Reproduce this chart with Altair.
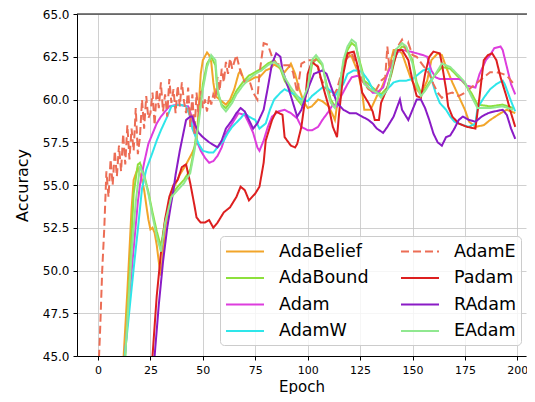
import altair as alt
import pandas as pd

# ---------------- data ----------------
plot_order = ["AdaBelief", "AdaBound", "Adam", "AdamW", "AdamE", "Padam", "RAdam", "EAdam"]
series_colors = {
    "AdaBelief": "#f2a52a", "AdaBound": "#8de03c", "Adam": "#dd3ddd", "AdamW": "#2ee6ea",
    "AdamE": "#ec6d55", "Padam": "#dd1f1f", "RAdam": "#8a1bc6", "EAdam": "#90e890",
}
x_ticks = [0, 25, 50, 75, 100, 125, 150, 175, 200]
y_ticks = [45.0, 47.5, 50.0, 52.5, 55.0, 57.5, 60.0, 62.5, 65.0]

adabelief_epoch = [10, 12, 14, 16, 17, 19, 21, 22, 24, 25, 26, 27, 28, 29, 30, 31, 32, 34, 36, 39, 42, 45, 47, 48, 49, 50, 52, 53, 54, 55, 56, 58, 61, 63, 65, 67, 68, 70, 72, 75, 77, 80, 82, 84, 86, 87, 89, 91, 92, 94, 96, 98, 100, 102, 105, 107, 110, 112, 113, 115, 117, 119, 121, 124, 126, 127, 130, 133, 135, 138, 141, 143, 145, 147, 149, 152, 154, 157, 159, 162, 164, 166, 169, 172, 175, 177, 180, 184, 187, 192, 195, 199]
adabelief_acc = [40.0, 44.5, 48.8, 53.6, 55.3, 56.0, 55.3, 54.7, 53.0, 52.4, 52.5, 52.2, 51.5, 50.5, 49.7, 51.0, 52.5, 53.8, 54.8, 55.6, 56.2, 56.9, 57.5, 59.5, 61.5, 62.3, 62.75, 62.6, 62.2, 61.0, 60.2, 60.0, 59.7, 60.0, 60.6, 61.5, 61.7, 61.0, 61.1, 61.3, 61.3, 61.7, 61.8, 62.05, 61.9, 61.8, 61.6, 61.9, 62.1, 61.5, 60.6, 59.9, 59.5, 59.6, 60.0, 59.9, 59.6, 59.1, 58.8, 60.5, 62.1, 62.7, 62.5, 61.6, 60.4, 59.4, 59.4, 60.2, 60.6, 61.5, 62.9, 62.9, 62.7, 62.0, 61.3, 60.6, 60.3, 61.1, 62.3, 62.7, 62.6, 61.9, 61.0, 60.2, 59.4, 58.7, 58.4, 58.5, 58.8, 59.2, 59.4, 59.2]

adabound_epoch = [12, 13, 15, 17, 19, 20, 22, 24, 26, 28, 30, 32, 35, 38, 41, 44, 46, 48, 50, 52, 54, 56, 57, 59, 61, 64, 66, 69, 72, 75, 78, 81, 84, 87, 89, 92, 95, 97, 100, 102, 104, 107, 109, 111, 113, 115, 117, 119, 121, 123, 124, 126, 127, 130, 133, 135, 138, 140, 142, 145, 147, 150, 152, 154, 156, 158, 162, 164, 168, 172, 175, 178, 181, 187, 193, 198]
adabound_acc = [43.0, 45.0, 49.5, 54.5, 56.2, 56.3, 55.6, 54.6, 53.4, 52.3, 51.4, 52.9, 54.4, 54.9, 55.3, 55.9, 57.2, 58.9, 60.9, 62.1, 62.5, 62.0, 60.4, 59.7, 59.5, 60.0, 60.5, 61.0, 61.4, 61.6, 61.8, 62.1, 62.3, 61.8, 61.1, 60.5, 60.0, 59.7, 60.5, 62.0, 62.4, 62.0, 60.9, 60.0, 59.6, 60.3, 62.0, 62.9, 63.3, 63.1, 62.6, 61.7, 61.1, 60.8, 60.5, 60.3, 60.7, 61.5, 62.6, 63.1, 63.0, 62.3, 61.0, 60.4, 60.6, 61.0, 61.6, 61.9, 61.8, 61.3, 60.9, 60.4, 59.7, 59.6, 59.7, 59.5]

adam_epoch = [11, 13, 15, 17, 19, 20, 22, 24, 26, 28, 30, 32, 34, 38, 43, 45, 47, 49, 51, 53, 55, 57, 59, 61, 64, 67, 70, 72, 74, 76, 77, 79, 81, 83, 86, 89, 92, 95, 97, 100, 102, 105, 107, 110, 112, 114, 116, 119, 121, 124, 126, 129, 131, 133, 136, 138, 141, 143, 145, 149, 152, 155, 157, 159, 161, 163, 168, 172, 174, 176, 180, 182, 185, 187, 189, 192, 193, 195, 197, 199]
adam_acc = [42.5, 45.3, 48.5, 51.3, 54.0, 55.0, 56.3, 57.4, 58.0, 58.6, 59.0, 59.3, 59.6, 59.7, 59.6, 58.9, 57.6, 57.0, 56.6, 56.3, 56.4, 56.7, 57.2, 58.0, 58.6, 59.2, 59.1, 58.6, 58.05, 57.2, 57.0, 57.6, 58.4, 59.0, 59.3, 59.4, 59.2, 58.9, 58.4, 58.2, 58.2, 58.4, 58.8, 59.3, 59.7, 59.6, 60.2, 60.9, 61.3, 61.4, 61.1, 60.7, 60.4, 60.4, 60.7, 61.5, 62.3, 62.8, 62.9, 62.8, 62.7, 62.6, 62.5, 61.7, 61.3, 61.2, 61.2, 61.2, 61.1, 60.8, 60.7, 61.5, 62.3, 62.6, 63.0, 63.1, 62.9, 61.9, 60.9, 60.3]

adamw_epoch = [11, 13, 15, 17, 19, 21, 23, 26, 28, 30, 33, 35, 39, 42, 44, 45, 48, 50, 53, 55, 57, 60, 62, 64, 68, 70, 72, 75, 77, 80, 82, 84, 87, 89, 92, 94, 97, 100, 102, 104, 107, 109, 112, 113, 114, 117, 119, 122, 124, 126, 129, 131, 134, 136, 138, 141, 144, 147, 150, 153, 155, 158, 159, 161, 163, 166, 168, 170, 174, 177, 180, 181, 184, 187, 190, 193, 194, 197, 199]
adamw_acc = [42.5, 45.3, 47.7, 50.1, 52.4, 54.8, 55.9, 56.9, 57.6, 58.2, 59.0, 59.6, 59.7, 59.6, 59.0, 58.3, 57.4, 57.0, 56.9, 56.9, 57.2, 57.6, 58.05, 58.4, 58.9, 59.2, 59.0, 58.8, 58.3, 58.6, 59.4, 60.0, 60.4, 60.6, 60.4, 60.3, 60.0, 59.9, 60.2, 60.4, 60.7, 60.7, 60.4, 60.2, 60.4, 60.9, 61.5, 61.7, 61.7, 61.6, 61.1, 60.6, 60.3, 60.2, 60.6, 61.0, 61.1, 61.1, 61.2, 61.5, 61.7, 61.8, 61.2, 60.4, 59.8, 59.4, 59.0, 58.7, 58.5, 58.4, 58.6, 59.5, 60.1, 60.6, 60.9, 61.1, 60.9, 59.9, 59.3]

adame_epoch = [0, 1, 2, 3, 4, 5, 6, 7, 8, 9, 10, 11, 12, 13, 14, 15, 16, 17, 18, 19, 20, 21, 22, 23, 24, 25, 26, 27, 28, 29, 30, 31, 32, 33, 34, 35, 36, 37, 38, 39, 40, 41, 42, 43, 44, 45, 46, 47, 48, 49, 50, 51, 52, 53, 54, 55, 56, 57, 58, 59, 60, 61, 62, 63, 64, 66, 68, 70, 72, 74, 76, 77, 79, 81, 83, 85, 88, 91, 93, 95, 97, 100, 104, 106, 109, 112, 114, 116, 118, 121, 123, 126, 129, 132, 135, 137, 138, 139, 141, 143, 145, 147, 148, 150, 152, 155, 158, 160, 162, 164, 166, 169, 172, 175, 178, 181, 184, 187, 190, 193, 195, 197, 199]
adame_acc = [43.5, 46.5, 50.0, 52.5, 55.8, 54.3, 56.5, 55.0, 57.0, 55.5, 57.3, 55.8, 58.0, 56.2, 58.5, 56.5, 58.3, 57.0, 59.5, 56.8, 57.8, 60.0, 58.3, 60.2, 58.9, 59.2, 60.4, 58.5, 60.6, 59.5, 61.0, 59.3, 60.3, 59.0, 61.2, 59.8, 60.6, 59.2, 60.8, 59.6, 61.0, 59.9, 59.2, 60.7, 58.4, 60.3, 58.0, 60.4, 59.0, 60.5, 59.5, 60.0, 59.3, 60.2, 59.7, 60.3, 60.0, 61.3, 60.5, 61.8, 61.0, 62.2, 61.5, 62.4, 61.8, 62.6, 61.6, 61.0, 61.2, 60.4, 60.0, 61.5, 63.3, 63.2, 62.5, 62.1, 62.0, 62.0, 61.6, 60.4, 62.1, 62.3, 62.3, 61.3, 60.6, 60.2, 60.6, 61.5, 62.3, 62.7, 62.1, 61.1, 60.6, 60.4, 61.1, 61.3, 63.1, 61.8, 62.7, 63.1, 63.5, 62.9, 63.3, 62.6, 62.5, 62.0, 61.5, 60.9, 60.4, 60.1, 60.3, 60.4, 60.2, 60.4, 60.7, 61.0, 61.3, 61.6, 61.6, 61.5, 61.4, 61.1, 60.8]

padam_epoch = [24, 26, 28, 30, 32, 34, 36, 38, 40, 42, 44, 46, 47, 49, 51, 53, 55, 57, 60, 63, 66, 68, 70, 72, 75, 77, 79, 80, 83, 85, 88, 89, 92, 94, 95, 97, 99, 100, 102, 105, 107, 110, 112, 114, 115, 117, 119, 122, 124, 126, 129, 131, 132, 134, 135, 138, 141, 143, 145, 148, 150, 152, 154, 156, 158, 160, 163, 164, 166, 167, 169, 172, 176, 180, 182, 184, 186, 188, 190, 192, 195, 197, 199]
padam_acc = [40.0, 45.0, 48.5, 51.0, 53.0, 54.3, 55.0, 55.3, 56.05, 56.2, 55.1, 53.8, 53.1, 52.8, 52.8, 52.95, 52.5, 52.8, 53.4, 53.7, 54.3, 54.9, 54.7, 54.1, 54.5, 54.9, 56.3, 57.6, 58.8, 59.3, 59.1, 57.8, 57.3, 57.2, 57.4, 58.4, 60.2, 61.5, 62.2, 61.9, 60.9, 59.6, 58.4, 57.8, 59.2, 61.5, 62.7, 62.8, 61.9, 60.4, 59.8, 59.3, 58.8, 58.8, 59.8, 60.7, 62.1, 62.9, 62.9, 62.3, 61.1, 60.2, 60.1, 61.5, 62.5, 62.8, 62.7, 62.1, 60.6, 59.6, 59.0, 58.6, 58.4, 58.3, 60.2, 62.3, 62.6, 62.7, 62.3, 61.3, 60.1, 59.2, 58.4]

radam_epoch = [24, 27, 29, 31, 33, 35, 36, 37, 39, 41, 42, 44, 45, 46, 48, 50, 53, 57, 59, 61, 64, 66, 68, 70, 72, 74, 76, 79, 81, 83, 85, 87, 88, 91, 93, 95, 97, 99, 101, 103, 107, 109, 111, 114, 117, 120, 123, 126, 129, 131, 133, 136, 138, 141, 144, 145, 148, 150, 152, 154, 156, 158, 160, 162, 164, 166, 168, 170, 172, 174, 177, 180, 183, 186, 189, 193, 195, 197, 199]
radam_acc = [40.0, 45.0, 48.0, 50.5, 52.5, 54.0, 54.7, 55.6, 57.0, 58.2, 58.8, 59.0, 59.0, 58.6, 58.05, 57.8, 57.5, 57.2, 57.6, 58.3, 58.8, 59.2, 59.5, 59.3, 58.8, 58.3, 58.6, 59.4, 60.7, 62.1, 62.7, 62.5, 61.7, 60.6, 59.8, 59.0, 59.4, 60.2, 60.9, 61.5, 61.7, 61.5, 60.8, 59.8, 59.4, 59.2, 59.2, 59.0, 58.8, 58.6, 58.3, 58.05, 58.4, 59.0, 60.0, 59.4, 58.8, 59.4, 60.0, 60.0, 59.5, 58.8, 58.0, 57.5, 57.3, 57.8, 57.9, 58.3, 58.8, 59.0, 58.8, 58.7, 59.0, 59.2, 59.3, 59.4, 59.1, 58.3, 57.7]

eadam_epoch = [12, 14, 16, 18, 20, 22, 24, 26, 28, 30, 32, 35, 38, 41, 44, 46, 48, 50, 52, 54, 56, 57, 59, 61, 64, 66, 69, 72, 75, 78, 81, 84, 87, 89, 92, 95, 97, 100, 102, 104, 107, 109, 111, 113, 115, 117, 119, 121, 123, 124, 126, 127, 130, 133, 135, 138, 140, 142, 145, 147, 150, 152, 154, 156, 158, 162, 164, 168, 172, 175, 178, 181, 187, 193, 198]
eadam_acc = [43.0, 47.0, 51.0, 54.0, 56.1, 55.5, 54.5, 53.2, 52.0, 51.1, 52.8, 54.3, 54.7, 55.1, 55.7, 57.0, 58.6, 60.6, 61.9, 62.6, 62.3, 60.6, 59.6, 59.3, 59.8, 60.3, 60.8, 61.2, 61.5, 61.7, 62.0, 62.2, 61.9, 61.3, 60.7, 60.2, 59.8, 60.7, 62.3, 62.6, 62.1, 60.7, 59.8, 59.5, 60.5, 62.3, 63.1, 63.5, 63.3, 62.5, 61.5, 60.9, 60.6, 60.4, 60.1, 60.6, 61.7, 62.9, 63.3, 63.1, 62.1, 60.8, 60.2, 60.5, 60.9, 61.7, 62.1, 61.9, 61.4, 61.0, 60.2, 59.5, 59.5, 59.6, 59.4]

# ---------------- build the long table ----------------
series_data = {
    "AdaBelief": (adabelief_epoch, adabelief_acc),
    "AdaBound": (adabound_epoch, adabound_acc),
    "Adam": (adam_epoch, adam_acc),
    "AdamW": (adamw_epoch, adamw_acc),
    "AdamE": (adame_epoch, adame_acc),
    "Padam": (padam_epoch, padam_acc),
    "RAdam": (radam_epoch, radam_acc),
    "EAdam": (eadam_epoch, eadam_acc),
}
frames = []
for name in plot_order:
    ep, acc = series_data[name]
    frames.append(pd.DataFrame({"Epoch": ep, "Accuracy": acc, "series": name}))
df = pd.concat(frames, ignore_index=True)

W, H = 449, 342
FONT = "DejaVu Sans"

x_scale = alt.Scale(domain=[-10.02, 204.13], nice=False, zero=False)
y_scale = alt.Scale(domain=[45, 65], nice=False, zero=False)

legend = alt.Legend(
    title=None, orient="none", legendX=143, legendY=222, columns=2,
    columnPadding=28, rowPadding=7.5, padding=5,
    symbolType="M-1,0L3,0", symbolSize=361, symbolStrokeWidth=2,
    labelOffset=33, labelFontSize=17.5, labelFont=FONT, labelColor="black",
    fillColor="rgba(255,255,255,0.8)", strokeColor="#cccccc", cornerRadius=4,
)

color_enc = alt.Color(
    "series:N",
    scale=alt.Scale(domain=plot_order, range=[series_colors[n] for n in plot_order]),
    legend=legend,
)
dash_enc = alt.StrokeDash(
    "series:N",
    scale=alt.Scale(domain=plot_order, range=[[8, 4] if n == "AdamE" else [1, 0] for n in plot_order]),
    legend=legend,
)

x_enc = alt.X("Epoch:Q", scale=x_scale,
              axis=alt.Axis(values=x_ticks, title="Epoch", format="d", labelFontSize=11))
y_enc = alt.Y("Accuracy:Q", scale=y_scale,
              axis=alt.Axis(values=y_ticks, title="Accuracy", format=".1f"))

layers = []
for name in plot_order:
    layers.append(
        alt.Chart()
        .transform_filter(alt.datum.series == name)
        .mark_line(clip=True, strokeWidth=2)
        .encode(x=x_enc, y=y_enc, color=color_enc, strokeDash=dash_enc)
    )

top_border = (
    alt.Chart(pd.DataFrame({"k": [0]}))
    .mark_rule(color="black", strokeWidth=1)
    .encode(x=alt.value(0), x2=alt.value(W + 1), y=alt.value(0))
)

chart = (
    alt.layer(*layers, data=df)
    + top_border
).properties(
    width=W, height=H,
    padding={"left": 69, "top": 6, "right": 1, "bottom": 38},
    autosize=alt.AutoSizeParams(type="none"),
).configure_view(
    stroke=None
).configure_axis(
    labelFont=FONT, labelFontSize=12, labelColor="black", labelPadding=4,
    titleFont=FONT, titleFontSize=16, titleFontWeight="normal", titleColor="black",
    grid=True, gridColor="#c4c4c4", gridWidth=0.8,
    domainColor="black", domainWidth=1, tickColor="black", tickSize=4,
).configure_axisX(
    titlePadding=4, titleFontSize=15
).configure_axisY(
    titlePadding=12
)

chart.save("out.html", embed_options={"renderer": "svg", "actions": False})
